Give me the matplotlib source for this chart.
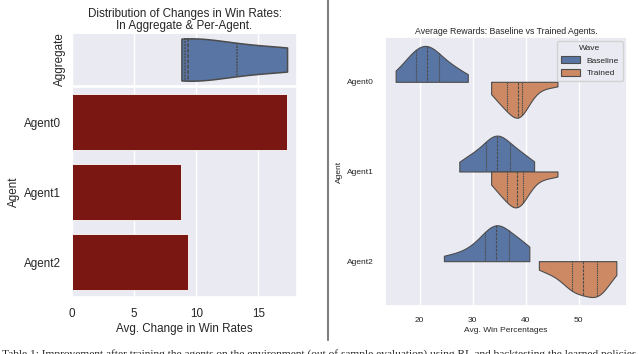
import numpy as np
import pandas as pd
import matplotlib
matplotlib.use("Agg")
import matplotlib.pyplot as plt
from matplotlib.lines import Line2D
import seaborn as sns

# left panel: avg change in win rate per agent
agents = ["Agent0", "Agent1", "Agent2"]
win_change = [17.3, 8.8, 9.3]

# right panel: win percentage samples per agent / wave
base0 = [15.5, 16.8, 17.8, 18.5, 19.0, 19.4, 19.9, 20.4, 20.8, 21.2,
         21.8, 22.1, 22.5, 23.0, 23.5, 24.2, 25.3, 26.2, 27.0, 29.1]
train0 = [33.5, 34.3, 35.0, 35.6, 36.1, 36.6, 37.0, 37.5, 37.9, 38.3,
          38.7, 38.9, 39.1, 39.2, 39.3, 39.7, 40.5, 41.8, 43.5, 46.0]
base1 = [27.5, 29.0, 30.0, 30.8, 31.8, 32.7, 33.3, 33.8, 34.2, 34.5,
         34.7, 35.1, 35.5, 35.9, 36.8, 37.8, 38.3, 39.0, 40.2, 41.6]
train1 = [33.5, 34.2, 34.9, 35.5, 36.1, 36.5, 37.0, 37.4, 37.8, 38.1,
          38.5, 38.7, 38.9, 39.1, 39.4, 39.8, 40.6, 42.0, 43.8, 46.0]
base2 = [24.6, 27.5, 29.5, 30.6, 31.8, 32.6, 33.2, 33.7, 34.1, 34.4,
         34.6, 35.0, 35.4, 35.9, 36.5, 37.7, 38.4, 39.2, 40.0, 40.7]
train2 = [42.5, 44.0, 45.8, 47.0, 48.3, 48.9, 49.2, 49.5, 49.8, 50.1,
          51.5, 52.9, 53.1, 53.2, 53.4, 53.6, 54.0, 54.6, 55.6, 57.1]

caption = ("Table 1: Improvement after training the agents on the environment "
           "(out of sample evaluation) using RL and backtesting the learned policies")

sns.set_theme(style="darkgrid")
plt.rcParams["font.family"] = ["Liberation Sans", "DejaVu Sans"]

rows = []
for name, b, t in zip(agents, [base0, base1, base2], [train0, train1, train2]):
    rows += [(name, "Baseline", v) for v in b]
    rows += [(name, "Trained", v) for v in t]
df = pd.DataFrame(rows, columns=["Agent", "Wave", "win"])

fig = plt.figure(figsize=(6.4, 3.54), dpi=100)
fs_l = 8.4
fs_r = 6.0

# aggregate violin
ax_top = fig.add_axes([0.1125, 0.757, 0.3516, 0.1497])
sns.violinplot(x=win_change, orient="h", color="#4C72B0", inner="quartile",
               cut=0, linewidth=1.1, ax=ax_top)
ax_top.set_xlim(0, 18.1)
ax_top.set_xticks([0, 5, 10, 15])
ax_top.set_xticklabels([])
ax_top.set_yticks([])
ax_top.set_ylabel("Aggregate", fontsize=fs_l, labelpad=4)
ax_top.set_title("Distribution of Changes in Win Rates:\nIn Aggregate & Per-Agent.",
                 fontsize=fs_l, pad=3, linespacing=1.0, color="#262626")

# per-agent bars
ax_bar = fig.add_axes([0.1125, 0.161, 0.3516, 0.593])
ax_bar.barh(agents, win_change, height=0.8, color="#7a1712", edgecolor="white",
            linewidth=0.6)
ax_bar.set_xlim(0, 18.1)
ax_bar.set_ylim(2.5, -0.5)
ax_bar.set_xticks([0, 5, 10, 15])
ax_bar.tick_params(labelsize=fs_l, pad=2)
ax_bar.set_xlabel("Avg. Change in Win Rates", fontsize=fs_l, labelpad=2)
ax_bar.set_ylabel("Agent", fontsize=fs_l, labelpad=3)
ax_bar.grid(axis="y", visible=False)

# split violins
ax_r = fig.add_axes([0.6016, 0.1356, 0.378, 0.760])
sns.violinplot(data=df, x="win", y="Agent", hue="Wave", split=True,
               inner="quartile", cut=0, density_norm="width", orient="h",
               palette=["#4C72B0", "#DD8452"], linewidth=0.8, ax=ax_r)
ax_r.set_xlim(13.5, 59.1)
ax_r.set_xticks([20, 30, 40, 50])
ax_r.tick_params(labelsize=fs_r, pad=2)
ax_r.set_title("Average Rewards: Baseline vs Trained Agents.", fontsize=6.3, pad=2,
               color="#262626")
ax_r.set_xlabel("Avg. Win Percentages", fontsize=fs_r, labelpad=2)
ax_r.set_ylabel("Agent", fontsize=fs_r, labelpad=3)
leg = ax_r.legend(title="Wave", fontsize=fs_r, title_fontsize=fs_r, loc="upper right",
                  handlelength=2.2, handleheight=0.9, borderpad=0.5)

# divider and caption (cropped by the page edge, as in the source)
fig.add_artist(Line2D([0.512, 0.512], [1.0, 0.04], color="#7f7f7f", linewidth=1.5))
fig.text(0.003, 0.013, caption, fontsize=8.2, family=["Liberation Serif", "DejaVu Serif"],
         va="top", ha="left", color="#222222")

fig.savefig("out.png", dpi=100)
